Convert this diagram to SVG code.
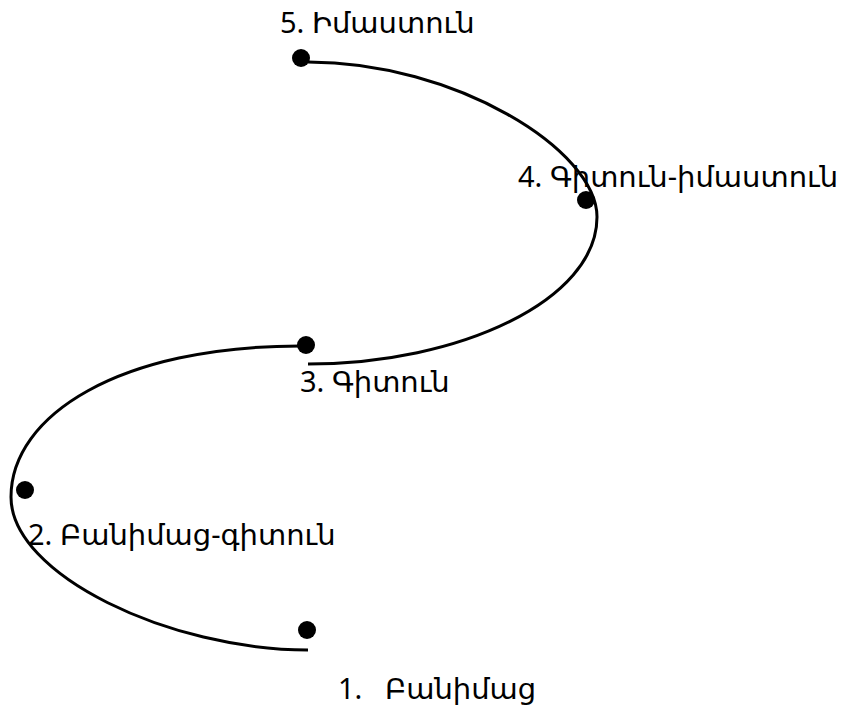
<svg xmlns="http://www.w3.org/2000/svg" width="846" height="707" viewBox="0 0 846 707">
<style>
.c{fill:none;stroke:#000;stroke-width:3}
.d{fill:#000}
.t{font-family:"Noto Sans","DejaVu Sans",sans-serif;font-size:29px;fill:#000}
</style>
<rect width="846" height="707" fill="#fff"/>
<g id="connectors">
<path class="c" d="M308,650 C170,650 11,575 11,497 C11,415 120,346 300,346"/>
<path class="c" d="M308,364 C460,364 597,300 597,217 C597,150 455,62 308,62"/>
</g>
<g id="n5"><circle class="d" cx="301" cy="58" r="9"/><text class="t" x="280" y="33">5. Իմաստուն</text></g>
<g id="n4"><circle class="d" cx="586" cy="200" r="9"/><text class="t" x="518" y="187">4. Գիտուն-իմաստուն</text></g>
<g id="n3"><circle class="d" cx="306" cy="345" r="9"/><text class="t" x="300" y="392">3. Գիտուն</text></g>
<g id="n2"><circle class="d" cx="25" cy="490" r="9"/><text class="t" x="28" y="545">2. Բանիմաց-գիտուն</text></g>
<g id="n1"><circle class="d" cx="307" cy="630" r="9"/><text class="t" x="338" y="699" xml:space="preserve">1.   Բանիմաց</text></g>
</svg>
